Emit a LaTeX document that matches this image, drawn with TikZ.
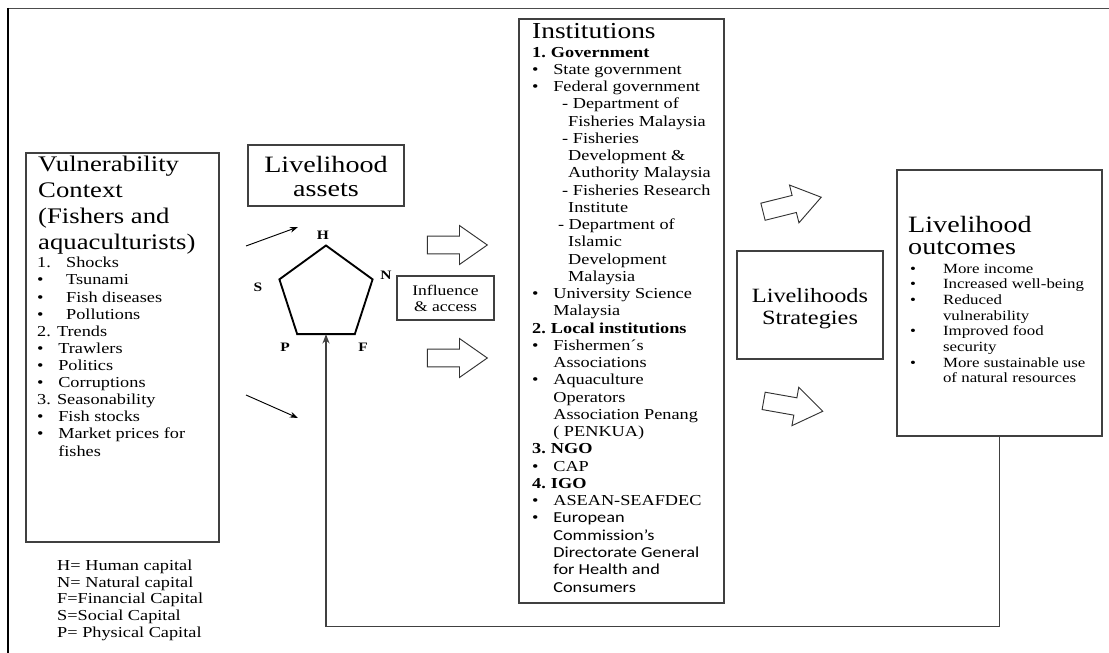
\documentclass[tikz,border=0pt]{standalone}
\usepackage{fontspec}
\setmainfont[FakeStretch=1.2]{Liberation Serif}
\newfontfamily\calib[FakeStretch=1.2]{Carlito}
\usetikzlibrary{arrows.meta,fit,shapes.geometric,shapes.arrows}
\tikzstyle{box}=[draw=black!75,line width=1pt,inner sep=0pt]
\tikzstyle{txt}=[anchor=base west,align=left,inner sep=0pt]
\tikzstyle{hollow}=[single arrow,draw=black!80,line width=0.8pt,fill=white,minimum height=1.8cm,inner xsep=0pt,inner ysep=0.25cm,single arrow head extend=0.32cm,single arrow tip angle=70]
\tikzstyle{thinarrow}=[-{Stealth[length=7pt,width=5pt]},line width=0.8pt]
\newcommand{\bitem}[2][18pt]{\makebox[#1][l]{\textbullet}#2}
\newcommand{\fs}[2]{\fontsize{#1}{#2}\selectfont}

\begin{document}
\begin{tikzpicture}[x=0.03cm,y=-0.03cm]
\useasboundingbox (0,0) rectangle (1109,653);
% page frame (base anchors sit on the last line)
\draw[black!70,line width=1.6pt] (8,8.5) -- (1109,8.5);
\draw[line width=1.1pt] (8,8) -- (8,653);

% vulnerability context
\node[box,fit={(26,153) (219,542)}] (vul) {};
\node[txt,font=\fs{19}{22.2}] (vultitle) at (38,250) {Vulnerability\\Context\\(Fishers and\\aquaculturists)};
\node[txt,font=\fs{13}{14.6}] (vullist) at (37,456) {\makebox[24.7pt][l]{1.}Shocks\\
  \bitem[24.7pt]{Tsunami}\\
  \bitem[24.7pt]{Fish diseases}\\
  \bitem[24.7pt]{Pollutions}\\
  2. Trends\\
  \bitem{Trawlers}\\
  \bitem{Politics}\\
  \bitem{Corruptions}\\
  3. Seasonability\\
  \bitem{Fish stocks}\\
  \bitem{Market prices for}\\
  \hspace*{18pt}fishes};
\node[txt,font=\fs{13}{14.1}] (legend) at (57,637) {H= Human capital\\N= Natural capital\\F=Financial Capital\\S=Social Capital\\P= Physical Capital};

% livelihood assets
\node[box,fit={(248,145) (404,206)}] (assets) {};
\node[anchor=base,align=center,inner sep=0pt,font=\fs{20}{21.3}] (assetstxt) at (326,197) {Livelihood\\assets};
\node[draw,line width=1.6pt,regular polygon,regular polygon sides=5,minimum size=2.94cm,inner sep=0pt,outer sep=0pt] (pent) at (326,294.5) {};
\node[font=\fs{11}{12}\bfseries] (lh) at (323,235) {H};
\node[font=\fs{11}{12}\bfseries] (ln) at (386,275) {N};
\node[font=\fs{11}{12}\bfseries] (ls) at (258,287) {S};
\node[font=\fs{11}{12}\bfseries] (lp) at (285,347) {P};
\node[font=\fs{11}{12}\bfseries] (lf) at (363,347) {F};
\coordinate (up0) at (246,246);
\coordinate (up1) at (298,227);
\coordinate (dn0) at (246,395);
\coordinate (dn1) at (298,418);
\draw[thinarrow] (up0) -- (up1);
\draw[thinarrow] (dn0) -- (dn1);

% influence and access
\node[hollow] (h1) at (451,245) {};
\node[hollow] (h2) at (451,358) {};
\node[box,fit={(397,276) (494,320)}] (infl) {};
\node[anchor=base,align=center,inner sep=0pt,font=\fs{12.5}{14.5}] (infltxt) at (445.5,312) {Influence\\\& access};

% institutions
\node[box,fit={(519,19) (724,603)}] (inst) {};
\node[txt,font=\fs{19.5}{22}] (insttitle) at (532,39) {Institutions};
\node[txt,font=\fs{13}{14.73}] (instlist) at (532,592) {\textbf{\makebox[16pt][l]{1.}Government}\\
  \bitem{State government}\\
  \bitem{Federal government}\\
  \hspace*{25.6pt}- Department of\\
  \hspace*{30.7pt}Fisheries Malaysia\\
  \hspace*{25.6pt}- Fisheries\\
  \hspace*{30.7pt}Development \&\\
  \hspace*{30.7pt}Authority Malaysia\\
  \hspace*{25.6pt}- Fisheries Research\\
  \hspace*{30.7pt}Institute\\
  \hspace*{22pt}- Department of\\
  \hspace*{30.7pt}Islamic\\
  \hspace*{30.7pt}Development\\
  \hspace*{30.7pt}Malaysia\\
  \bitem{University Science}\\
  \hspace*{18pt}Malaysia\\
  \textbf{\makebox[16pt][l]{2.}Local institutions}\\
  \bitem{Fishermen´s}\\
  \hspace*{18pt}Associations\\
  \bitem{Aquaculture}\\
  \hspace*{18pt}Operators\\
  \hspace*{18pt}Association Penang\\
  \hspace*{18pt}( PENKUA)\\
  \textbf{\makebox[16pt][l]{3.}NGO}\\
  \bitem{CAP}\\
  \textbf{\makebox[16pt][l]{4.}IGO}\\
  \bitem{ASEAN-SEAFDEC}\\
  \bitem{\calib European}\\
  \hspace*{18pt}{\calib Commission’s}\\
  \hspace*{18pt}{\calib Directorate General}\\
  \hspace*{18pt}{\calib for Health and}\\
  \hspace*{18pt}{\calib Consumers}};

% strategies and outcomes
\node[hollow,rotate=14] (h3) at (786,206) {};
\node[hollow,rotate=-10] (h4) at (787,405) {};
\node[box,fit={(737,251) (883,359)}] (strat) {};
\node[anchor=base,align=center,inner sep=0pt,font=\fs{17.3}{19.6}] (strattxt) at (810,325) {Livelihoods\\Strategies};
\node[box,fit={(897,170) (1102,436)}] (outc) {};
\node[txt,font=\fs{20}{19.6}] (outctitle) at (908,255) {Livelihood\\outcomes};
\node[txt,font=\fs{12}{13.4}] (outclist) at (910,383) {\bitem[28pt]{More income}\\
  \bitem[28pt]{Increased well-being}\\
  \bitem[28pt]{Reduced}\\
  \hspace*{28pt}vulnerability\\
  \bitem[28pt]{Improved food}\\
  \hspace*{28pt}security\\
  \bitem[28pt]{More sustainable use}\\
  \hspace*{28pt}of natural resources};

% feedback
\draw[line width=1.2pt,black!75,-{Stealth[length=8pt,width=6pt]}] (outc.south) -- ++(0,190) -| (pent.south);
\end{tikzpicture}
\end{document}
